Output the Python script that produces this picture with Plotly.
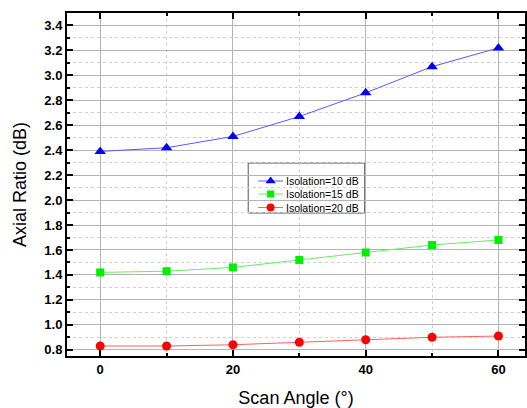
import plotly.graph_objects as go

angles = [0, 10, 20, 30, 40, 50, 60]
iso10 = [2.39, 2.42, 2.51, 2.67, 2.86, 3.07, 3.22]
iso15 = [1.42, 1.43, 1.46, 1.52, 1.58, 1.64, 1.68]
iso20 = [0.83, 0.83, 0.84, 0.86, 0.88, 0.90, 0.91]
names = ["Isolation=10 dB", "Isolation=15 dB", "Isolation=20 dB"]
line_colors = ["#5a5aff", "#66ee66", "#ff6060"]
marker_colors = ["#0000ff", "#00ee00", "#ff0000"]
symbols = ["triangle-up", "square", "circle"]
sizes = [10, 8, 9]

FONT = "Arial, Liberation Sans"
fig = go.Figure()
for ys, nm, lc, mc, sy, sz in zip([iso10, iso15, iso20], names, line_colors, marker_colors, symbols, sizes):
    fig.add_trace(go.Scatter(x=angles, y=ys, name=nm, mode="lines+markers",
                             line=dict(color=lc, width=1),
                             marker=dict(symbol=sy, size=sz, color=mc), showlegend=False))

axis_common = dict(
    showline=True, linecolor="black", linewidth=2, mirror="ticks",
    ticks="inside", ticklen=6, tickwidth=1.5, tickcolor="black",
    showgrid=True, gridcolor="#b4b4b4", gridwidth=1,
    zeroline=False,
    tickfont=dict(family=FONT, size=13, color="black", weight="bold"),
)

L, T, B = 67, 13, 356
fig.update_layout(
    xaxis=dict(range=[-5, 64.0], tickvals=[0, 20, 40, 60], **axis_common,
               minor=dict(dtick=10, tick0=0, ticks="inside", ticklen=3, tickcolor="black",
                          showgrid=True, gridcolor="#d0d0d0", griddash="dot", gridwidth=1),
               title=dict(text="Scan Angle (°)", font=dict(family=FONT, size=18, color="black"), standoff=16)),
    yaxis=dict(range=[0.75, 3.5], tick0=0.8, dtick=0.2, tickformat=".1f", **axis_common,
               minor=dict(dtick=0.1, tick0=0.8, ticks="inside", ticklen=3, tickcolor="black",
                          showgrid=True, gridcolor="#d0d0d0", griddash="dot", gridwidth=1),
               title=dict(text="Axial Ratio (dB)", font=dict(family=FONT, size=18, color="black"), standoff=13)),
    # Hidden pixel-coordinate axes for a compact, hand-built legend
    xaxis2=dict(overlaying="x", range=[L, 527], visible=False, anchor="y2"),
    yaxis2=dict(overlaying="y", range=[B, T], visible=False, anchor="x2"),
)

box = dict(x0=249, x1=366, y0=163, y1=213)
fig.add_shape(type="rect", xref="x2", yref="y2", **box,
              line=dict(color="#555555", width=1), fillcolor="white", layer="below")
rows = [181, 194, 207.5]
for ry, nm, lc in zip(rows, names, line_colors):
    fig.add_shape(type="line", xref="x2", yref="y2", x0=259, x1=284, y0=ry, y1=ry,
                  line=dict(color=lc, width=1), layer="below")
    fig.add_annotation(xref="x2", yref="y2", x=285.5, y=ry, text=nm, showarrow=False,
                       xanchor="left", yanchor="middle", borderpad=0,
                       font=dict(family=FONT, size=10.5, color="black"))
legend_x = [271.5] * 3
for lx, ry, mc, sy, sz in zip(legend_x, rows, marker_colors, symbols, sizes):
    fig.add_trace(go.Scatter(x=[lx], y=[ry], xaxis="x2", yaxis="y2", mode="markers",
                             marker=dict(symbol=sy, size=sz - 1, color=mc),
                             showlegend=False, hoverinfo="skip"))

fig.update_layout(
    width=527, height=408,
    margin=dict(l=L, r=0, t=T, b=408 - B),
    plot_bgcolor="white", paper_bgcolor="white",
    showlegend=False,
)

fig.write_html("out.html")
